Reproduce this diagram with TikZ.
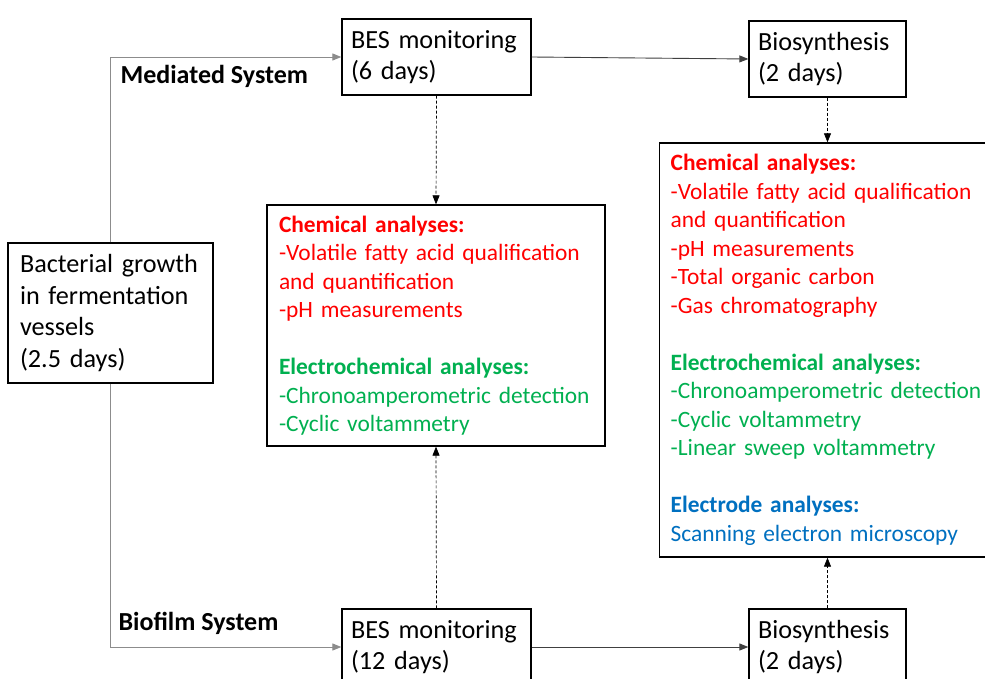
\documentclass[tikz,border=0pt]{standalone}
\usepackage{fontspec}
\setmainfont{Carlito}
\usetikzlibrary{arrows.meta,calc}
\definecolor{chemred}{RGB}{255,0,0}
\definecolor{elecgreen}{RGB}{0,176,80}
\definecolor{electblue}{RGB}{0,112,192}
\hyphenpenalty=10000
\tikzset{
  stagebox/.style={draw,line width=1.3pt,align=left,inner xsep=9pt,
    font=\fontsize{26.2}{31.5}\selectfont},
  resultbox/.style={draw,line width=1.3pt,align=left,inner xsep=11pt,
    font=\fontsize{23.4}{28.5}\selectfont},
  flow/.style={line width=0.9pt,black!75,-{Triangle[length=9pt,width=7pt]}},
  feed/.style={line width=0.9pt,black!45,-{Triangle[length=9pt,width=7pt]}},
  probe/.style={line width=0.7pt,black,dash pattern=on 3pt off 2pt,
    -{Triangle[length=9pt,width=7pt]}},
  syslabel/.style={font=\fontsize{26}{30}\selectfont\bfseries,anchor=west}
}
\begin{document}
\begin{tikzpicture}[x=1pt,y=-1pt]
    \clip (0,0) rectangle (985,679);
    \fill[white] (0,0) rectangle (985,679);

    % Starting culture
    \node[stagebox,inner xsep=12pt,minimum width=205pt,minimum height=140pt,text width=181pt] (growth) at (110.5,313)
      {Bacterial growth\\in fermentation\\vessels\\(2.5 days)};

    % Mediated system row
    \node[stagebox,minimum width=189pt,minimum height=76pt,text width=171pt] (besM) at (436.5,57)
      {BES monitoring\\(6 days)};
    \node[stagebox,minimum width=157pt,minimum height=76pt,text width=139pt] (bioM) at (827.5,59)
      {Biosynthesis\\(2 days)};

    % Biofilm system row
    \node[stagebox,minimum width=189pt,minimum height=76pt,text width=171pt] (besB) at (436.5,647)
      {BES monitoring\\(12 days)};
    \node[stagebox,minimum width=157pt,minimum height=76pt,text width=139pt] (bioB) at (827.5,647)
      {Biosynthesis\\(2 days)};

    % Analyses during monitoring
    \node[resultbox,minimum width=338pt,minimum height=241pt,text width=314pt] (chemM) at (436,325.5)
      {\textcolor{chemred}{\textbf{Chemical analyses:}}\\
       \textcolor{chemred}{-Volatile fatty acid qualification}\\
       \textcolor{chemred}{and quantification}\\
       \textcolor{chemred}{-pH measurements}\\[28.5pt]
       \textcolor{elecgreen}{\textbf{Electrochemical analyses:}}\\
       \textcolor{elecgreen}{-Chronoamperometric detection}\\
       \textcolor{elecgreen}{-Cyclic voltammetry}};

    % Analyses after biosynthesis
    \node[resultbox,anchor=west,minimum width=345pt,minimum height=414pt,text width=323pt] (chemB) at (659,350)
      {\textcolor{chemred}{\textbf{Chemical analyses:}}\\
       \textcolor{chemred}{-Volatile fatty acid qualification}\\
       \textcolor{chemred}{and quantification}\\
       \textcolor{chemred}{-pH measurements}\\
       \textcolor{chemred}{-Total organic carbon}\\
       \textcolor{chemred}{-Gas chromatography}\\[28.5pt]
       \textcolor{elecgreen}{\textbf{Electrochemical analyses:}}\\
       \textcolor{elecgreen}{-Chronoamperometric detection}\\
       \textcolor{elecgreen}{-Cyclic voltammetry}\\
       \textcolor{elecgreen}{-Linear sweep voltammetry}\\[28.5pt]
       \textcolor{electblue}{\textbf{Electrode analyses:}}\\
       \textcolor{electblue}{Scanning electron microscopy}};

    % System labels
    \node[syslabel] (medlbl) at (117,76) {Mediated System};
    \node[syslabel] (biolbl) at (115,623) {Biofilm System};

    % Process flow
    \draw[feed] (growth.north) |- (besM.west);
    \draw[feed] (growth.south) |- (besB.west);
    \draw[flow] (besM.east) -- (bioM.west);
    \draw[flow] (besB.east) -- (bioB.west);

    % Sampling for analyses
    \draw[probe] (besM.south) -- (chemM.north);
    \draw[probe] (besB.north) -- (chemM.south);
    \draw[probe] (bioM.south) -- (bioM.south |- chemB.north);
    \draw[probe] (bioB.north) -- (bioB.north |- chemB.south);
\end{tikzpicture}
\end{document}
